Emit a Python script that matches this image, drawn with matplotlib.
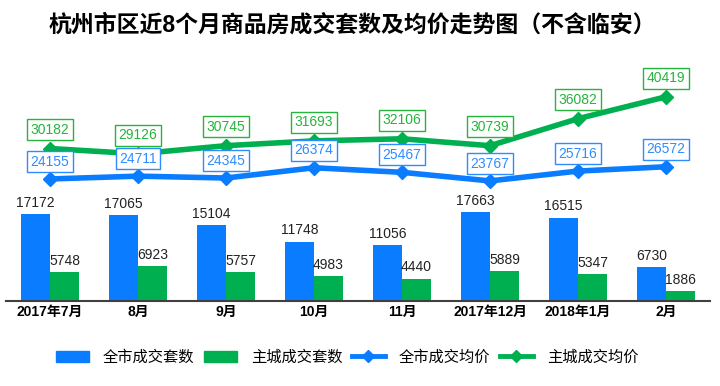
import matplotlib
matplotlib.use('Agg')
import matplotlib.pyplot as plt
from matplotlib.patches import Patch
from matplotlib.lines import Line2D
import numpy as np

plt.rcParams['font.family'] = ['Liberation Sans', 'Noto Sans CJK SC', 'DejaVu Sans']

months = ['2017年7月', '8月', '9月', '10月', '11月', '2017年12月', '2018年1月', '2月']
city_count = [17172, 17065, 15104, 11748, 11056, 17663, 16515, 6730]
main_count = [5748, 6923, 5757, 4983, 4440, 5889, 5347, 1886]
city_price = [24155, 24711, 24345, 26374, 25467, 23767, 25716, 26572]
main_price = [30182, 29126, 30745, 31693, 32106, 30739, 36082, 40419]

BLUE = '#0A7CFF'
GREEN = '#00B050'
BLUE_TXT = '#2F8CFF'
GREEN_TXT = '#25B43C'

fig = plt.figure(figsize=(7.2, 3.86), dpi=100)
ax = fig.add_axes([6 / 720, 85 / 386, 704 / 720, 241 / 386])

x = np.arange(len(months))
w = 0.33
ax.bar(x - w / 2, city_count, w, color=BLUE)
ax.bar(x + w / 2, main_count, w, color=GREEN)

for i in x:
    ax.annotate(str(city_count[i]), (i - w / 2, city_count[i]), xytext=(0, 3),
                textcoords='offset points', ha='center', va='bottom',
                fontsize=10, color='#222222')
    ax.annotate(str(main_count[i]), (i + w / 2, main_count[i]), xytext=(0, 3),
                textcoords='offset points', ha='center', va='bottom',
                fontsize=10, color='#222222')

ax.plot(x, city_price, color=BLUE, lw=4, marker='D', ms=7, zorder=4)
ax.plot(x, main_price, color=GREEN, lw=4, marker='D', ms=7, zorder=4)

for i in x:
    ax.annotate(str(city_price[i]), (i, city_price[i]), xytext=(0, 12.5),
                textcoords='offset points', ha='center', va='center',
                fontsize=10, color=BLUE_TXT, zorder=5,
                bbox=dict(boxstyle='square,pad=0.25', fc='white', ec=BLUE_TXT, lw=1))
    ax.annotate(str(main_price[i]), (i, main_price[i]), xytext=(0, 13.5),
                textcoords='offset points', ha='center', va='center',
                fontsize=10, color=GREEN_TXT, zorder=5,
                bbox=dict(boxstyle='square,pad=0.25', fc='white', ec=GREEN_TXT, lw=1))

ax.set_xlim(-0.5, len(months) - 0.5)
ax.set_ylim(0, 47700)
ax.set_xticks(x)
ax.set_xticklabels(months, fontsize=10, fontweight='bold')
ax.tick_params(axis='x', length=0, pad=3)
ax.set_yticks([])
for s in ['top', 'right', 'left']:
    ax.spines[s].set_visible(False)
ax.spines['bottom'].set_color('#404040')
ax.spines['bottom'].set_linewidth(1.5)

fig.text(0.49, 1 - 25 / 386, '杭州市区近8个月商品房成交套数及均价走势图（不含临安）',
         ha='center', va='center', fontsize=16.5, fontweight='bold')

handles = [Patch(color=BLUE), Patch(color=GREEN),
           Line2D([], [], color=BLUE, lw=3.5, marker='D', ms=6),
           Line2D([], [], color=GREEN, lw=3.5, marker='D', ms=6)]
labels = ['全市成交套数', '主城成交套数', '全市成交均价', '主城成交均价']
fig.legend(handles, labels, loc='center', bbox_to_anchor=(0.482, 1 - 357 / 386),
           ncol=4, frameon=False, handlelength=2.2,
           handletextpad=0.9, columnspacing=0.6,
           prop={'family': ['Noto Sans CJK SC'], 'size': 11})

fig.savefig('out.png', dpi=100)
